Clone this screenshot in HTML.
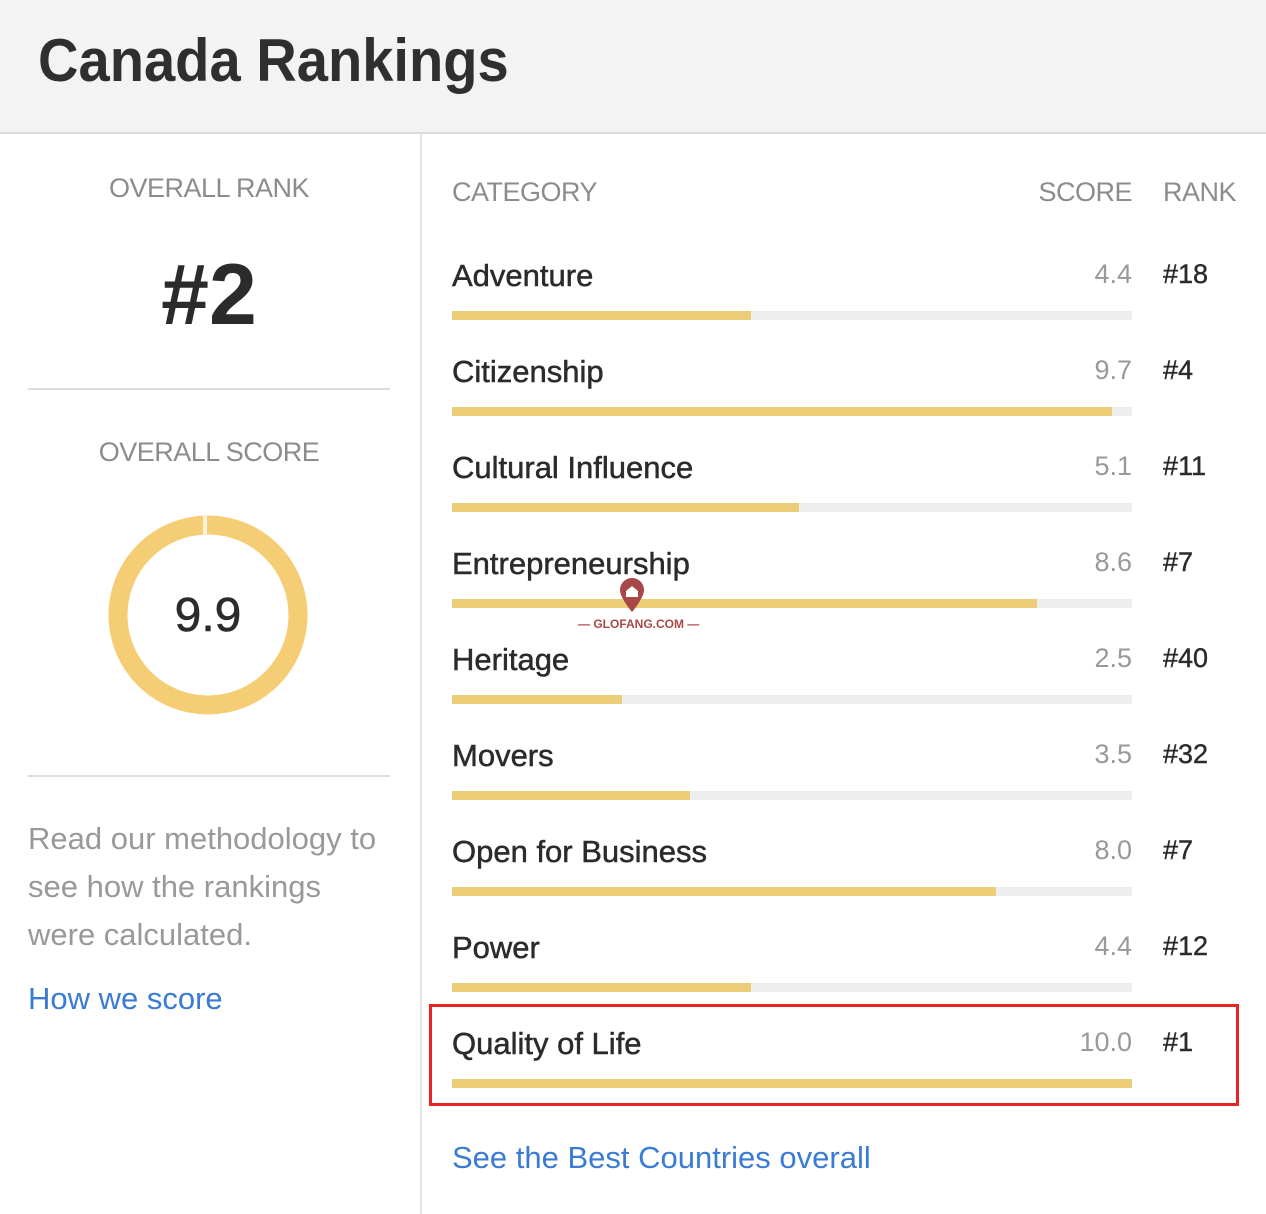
<!DOCTYPE html><html><head><style>
body{margin:0;width:1266px;height:1214px;background:#fff;font-family:"Liberation Sans",sans-serif;position:relative;overflow:hidden}
.a{position:absolute;white-space:nowrap}
.lab{font-size:31px;color:#2b2b2b;left:452px;-webkit-text-stroke:0.5px #2b2b2b}
.sc{font-size:27px;color:#999;right:134px;text-align:right}
.rk{font-size:27px;color:#2b2b2b;left:1163px;-webkit-text-stroke:0.4px #2b2b2b}
.bg{position:absolute;left:452px;width:680px;height:9px;background:#eee}
.bg div{height:100%;background:#ecce78}
.hd{font-size:27px;color:#8c8c8c;letter-spacing:-0.5px}
</style></head><body>
<div class="a" style="left:0;top:0;width:1266px;height:132px;background:#f3f3f3;border-bottom:2px solid #ddd"></div>
<div class="a" style="left:38px;top:26px;font-size:60px;color:#2f2f2f;font-weight:bold;transform:scaleX(0.935);transform-origin:left top">Canada Rankings</div>
<div class="a" style="left:420px;top:134px;width:2px;height:1080px;background:#e3e3e3"></div>
<div class="a hd" style="left:0;width:418px;text-align:center;top:173px">OVERALL RANK</div>
<div class="a" style="left:0;width:418px;text-align:center;top:246px;font-size:86px;font-weight:bold;color:#2b2b2b">#2</div>
<div class="a" style="left:28px;top:388px;width:362px;height:2px;background:#ddd"></div>
<div class="a hd" style="left:0;width:418px;text-align:center;top:437px">OVERALL SCORE</div>
<svg class="a" style="left:108px;top:515px" width="200" height="200"><circle cx="100" cy="100" r="90" fill="none" stroke="#f4cd74" stroke-width="19"/><rect x="95" y="0" width="4" height="20" fill="#fdf3dd"/></svg>
<div class="a" style="left:108px;width:200px;text-align:center;top:588px;font-size:48px;color:#2b2b2b;-webkit-text-stroke:0.6px #2b2b2b">9.9</div>
<div class="a" style="left:28px;top:775px;width:362px;height:2px;background:#ddd"></div>
<div class="a" style="left:28px;top:815px;font-size:31px;line-height:48px;color:#999;white-space:normal;width:360px">Read our methodology to see how the rankings were calculated.</div>
<div class="a" style="left:28px;top:981px;font-size:31px;color:#3a7bd5">How we score</div>
<div class="a hd" style="left:452px;top:177px">CATEGORY</div>
<div class="a hd" style="right:134px;top:177px">SCORE</div>
<div class="a hd" style="left:1163px;top:177px">RANK</div>

<div class="a lab" style="top:258px">Adventure</div><div class="a sc" style="top:259px">4.4</div><div class="a rk" style="top:259px">#18</div><div class="bg" style="top:311px"><div style="width:44%"></div></div>
<div class="a lab" style="top:354px">Citizenship</div><div class="a sc" style="top:355px">9.7</div><div class="a rk" style="top:355px">#4</div><div class="bg" style="top:407px"><div style="width:97%"></div></div>
<div class="a lab" style="top:450px">Cultural Influence</div><div class="a sc" style="top:451px">5.1</div><div class="a rk" style="top:451px">#11</div><div class="bg" style="top:503px"><div style="width:51%"></div></div>
<div class="a lab" style="top:546px">Entrepreneurship</div><div class="a sc" style="top:547px">8.6</div><div class="a rk" style="top:547px">#7</div><div class="bg" style="top:599px"><div style="width:86%"></div></div>
<div class="a lab" style="top:642px">Heritage</div><div class="a sc" style="top:643px">2.5</div><div class="a rk" style="top:643px">#40</div><div class="bg" style="top:695px"><div style="width:25%"></div></div>
<div class="a lab" style="top:738px">Movers</div><div class="a sc" style="top:739px">3.5</div><div class="a rk" style="top:739px">#32</div><div class="bg" style="top:791px"><div style="width:35%"></div></div>
<div class="a lab" style="top:834px">Open for Business</div><div class="a sc" style="top:835px">8.0</div><div class="a rk" style="top:835px">#7</div><div class="bg" style="top:887px"><div style="width:80%"></div></div>
<div class="a lab" style="top:930px">Power</div><div class="a sc" style="top:931px">4.4</div><div class="a rk" style="top:931px">#12</div><div class="bg" style="top:983px"><div style="width:44%"></div></div>
<div class="a lab" style="top:1026px">Quality of Life</div><div class="a sc" style="top:1027px">10.0</div><div class="a rk" style="top:1027px">#1</div><div class="bg" style="top:1079px"><div style="width:100%"></div></div>
<div class="a" style="left:429px;top:1004px;width:804px;height:96px;border:3px solid #e52424"></div>
<div class="a" style="left:452px;top:1140px;font-size:31px;color:#3a7bd5">See the Best Countries overall</div>
<svg class="a" style="left:618px;top:576px" width="28" height="38"><path d="M14 2a12 12 0 0 0-12 12c0 8 12 22 12 22s12-14 12-22A12 12 0 0 0 14 2z" fill="#a84848"/><path d="M8 15l6-5 6 5v6H8z" fill="#fff"/></svg>
<div class="a" style="left:578px;top:617px;font-size:12px;font-weight:bold;color:#a84848">— GLOFANG.COM —</div>
</body></html>
